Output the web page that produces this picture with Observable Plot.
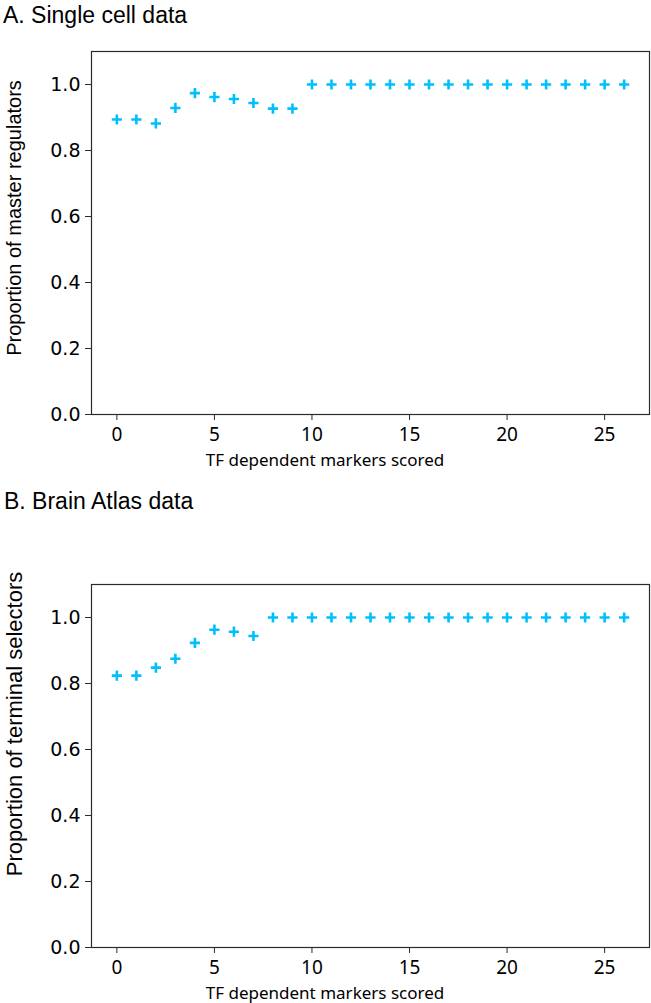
<!DOCTYPE html>
<html><head><meta charset="utf-8">
<script src="https://cdn.jsdelivr.net/npm/d3@7"></script>
<script src="https://cdn.jsdelivr.net/npm/@observablehq/plot@0.6"></script>
<style>
body{margin:0;background:#fff}
#root{position:relative;width:651px;height:1003px;overflow:hidden;background:#fff}
.abs{position:absolute;white-space:nowrap;line-height:1;color:#000}
.plot{position:absolute;left:0}
</style>
</head><body><div id="root"></div>
<script>
// ---- data ----
const markersScored = [0,1,2,3,4,5,6,7,8,9,10,11,12,13,14,15,16,17,18,19,20,21,22,23,24,25,26];
const singleCellProportion = [0.894,0.894,0.882,0.929,0.974,0.962,0.956,0.944,0.927,0.927,1,1,1,1,1,1,1,1,1,1,1,1,1,1,1,1,1];
const brainAtlasProportion = [0.824,0.824,0.848,0.875,0.923,0.963,0.957,0.944,1,1,1,1,1,1,1,1,1,1,1,1,1,1,1,1,1,1,1];
const yTickValues = [0, 0.2, 0.4, 0.6, 0.8, 1.0];
const xTickValues = [0, 5, 10, 15, 20, 25];
const panelTitles = ["A. Single cell data", "B. Brain Atlas data"];
const yLabels = ["Proportion of master regulators", "Proportion of terminal selectors"];
const xLabel = "TF dependent markers scored";

const root = document.getElementById("root");
const plusSymbol = {draw(ctx, size){const r = Math.sqrt(size/Math.PI); ctx.moveTo(-r,0); ctx.lineTo(r,0); ctx.moveTo(0,-r); ctx.lineTo(0,r);}};

function addText(txt, css){
  const d = document.createElement("div");
  d.className = "abs"; d.textContent = txt;
  Object.assign(d.style, css);
  root.appendChild(d);
}

function panel(values, top, yLabel, yLabelCss){
  const data = markersScored.map((x,i)=>({x, y: values[i]}));
  const p = Plot.plot({
    width: 651, height: 474,
    marginLeft: 91, marginRight: 2, marginTop: 51, marginBottom: 60,
    style: {background: "transparent", overflow: "visible"},
    x: {domain: [-1.3, 27.3]},
    y: {domain: [0, 1.1]},
    marks: [
      Plot.frame({stroke: "#2a2a2a", strokeWidth: 1.2}),
      Plot.axisY({ticks: yTickValues, tickFormat: d => d.toFixed(1), tickSize: 6, tickPadding: 5,
        fontSize: 19, fontFamily: "DejaVu Sans", label: null, stroke: "#2a2a2a"}),
      Plot.axisX({ticks: xTickValues, tickFormat: d => String(d), tickSize: 6, tickPadding: 7,
        fontSize: 19, fontFamily: "Noto Sans", label: null, stroke: "#2a2a2a"}),
      Plot.dot(data, {x: "x", y: "y", symbol: plusSymbol, r: 5.1, stroke: "#00bfff", strokeWidth: 2.6, fill: "none"})
    ]
  });
  p.classList.add("plot");
  p.style.top = top + "px";
  root.appendChild(p);
  addText(yLabel, Object.assign({fontFamily: "Liberation Sans",
    transform: "translate(-50%,-50%) rotate(-90deg)"}, yLabelCss));
  addText(xLabel, {fontFamily: "Noto Sans", fontSize: "17px", left: "325px", top: (top + 459) + "px",
    transform: "translate(-50%,-50%)"});
}

addText(panelTitles[0], {fontFamily: "Liberation Sans", fontSize: "23px", left: "3px", top: "4px"});
addText(panelTitles[1], {fontFamily: "Liberation Sans", fontSize: "23px", left: "4px", top: "490px"});
panel(singleCellProportion, 0, yLabels[0], {left: "14px", top: "218px", fontSize: "20px"});
panel(brainAtlasProportion, 533, yLabels[1], {left: "15px", top: "724px", fontSize: "22px"});
</script>
</body></html>
